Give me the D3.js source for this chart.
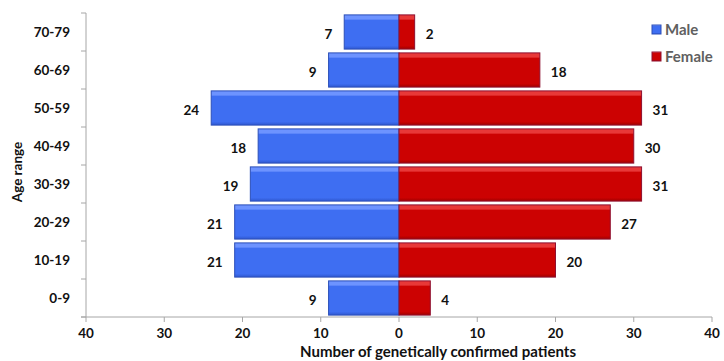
<!DOCTYPE html>
<html>
<head>
<meta charset="utf-8">
<script src="https://cdn.jsdelivr.net/npm/d3@7/dist/d3.min.js"></script>
<style>
  html, body { margin: 0; padding: 0; background: #fff; }
  svg { display: block; font-family: Lato, "Open Sans", sans-serif; font-weight: 700; }
</style>
</head>
<body>
<svg id="chart" width="724" height="361"></svg>
<script>
// Age groups, top to bottom
const ageGroups = ["70-79", "60-69", "50-59", "40-49", "30-39", "20-29", "10-19", "0-9"];
const maleCounts = [7, 9, 24, 18, 19, 21, 21, 9];
const femaleCounts = [2, 18, 31, 30, 31, 27, 20, 4];
const xTicks = [-40, -30, -20, -10, 0, 10, 20, 30, 40];
const seriesNames = ["Male", "Female"];

const svg = d3.select("#chart");
const margin = { left: 86, right: 12, top: 13, bottom: 44 };
const W = 724, H = 361;

const x = d3.scaleLinear().domain([-40, 40]).range([margin.left, W - margin.right]);
const y = d3.scaleBand().domain(ageGroups).range([margin.top, H - margin.bottom]).paddingInner(0.1).paddingOuter(0.05);
const yOuter = d3.scaleBand().domain(ageGroups).range([margin.top, H - margin.bottom]);

// Gradients for the bevelled bar look
const defs = svg.append("defs");
function barGradient(id, top, mid, bottom) {
  const g = defs.append("linearGradient").attr("id", id).attr("x1", 0).attr("y1", 0).attr("x2", 0).attr("y2", 1);
  g.append("stop").attr("offset", "0%").attr("stop-color", top);
  g.append("stop").attr("offset", "12%").attr("stop-color", top);
  g.append("stop").attr("offset", "16%").attr("stop-color", mid);
  g.append("stop").attr("offset", "90%").attr("stop-color", mid);
  g.append("stop").attr("offset", "100%").attr("stop-color", bottom);
}
barGradient("gMale", "#6d93ff", "#3e6ef2", "#2f58cf");
barGradient("gFemale", "#e83838", "#cc0202", "#a00000");

const colors = { Male: { fill: "url(#gMale)", stroke: "#2c4fb8" },
                 Female: { fill: "url(#gFemale)", stroke: "#8e1030" } };

// Axes
const axisColor = "#a6a6a6";
const x0 = x(-40), x1 = x(40), yTop = margin.top, yBot = H - margin.bottom;
svg.append("line").attr("x1", x0).attr("x2", x0).attr("y1", yTop).attr("y2", yBot).attr("stroke", axisColor);
svg.append("line").attr("x1", x0 - 5).attr("x2", x1).attr("y1", yBot).attr("y2", yBot).attr("stroke", axisColor);

// y tick marks at band boundaries
const bounds = ageGroups.map(d => yOuter(d)).concat([yBot]);
svg.selectAll(".ytick").data(bounds).join("line")
  .attr("x1", x0 - 5).attr("x2", x0).attr("y1", d => d).attr("y2", d => d).attr("stroke", axisColor);

// x tick marks
svg.selectAll(".xtick").data(xTicks).join("line")
  .attr("x1", d => x(d)).attr("x2", d => x(d)).attr("y1", yBot).attr("y2", yBot + 5).attr("stroke", axisColor);

// x tick labels (absolute values)
svg.selectAll(".xlabel").data(xTicks).join("text")
  .attr("x", d => x(d)).attr("y", yBot + 21)
  .attr("text-anchor", "middle").attr("font-size", 13.5).attr("fill", "#111")
  .text(d => Math.abs(d));

// y tick labels
svg.selectAll(".ylabel").data(ageGroups).join("text")
  .attr("x", 70).attr("y", d => yOuter(d) + yOuter.bandwidth() / 2 + 5)
  .attr("text-anchor", "end").attr("font-size", 13.5).attr("fill", "#111")
  .text(d => d);

// Axis titles
svg.append("text").attr("x", 438).attr("y", 357).attr("text-anchor", "middle")
  .attr("font-size", 15).attr("fill", "#111").text("Number of genetically confirmed patients");
svg.append("text").attr("transform", "translate(22,172) rotate(-90)")
  .attr("text-anchor", "middle").attr("font-size", 13.5).attr("fill", "#111").text("Age range");

// Bars
const rows = ageGroups.map((g, i) => ({ g, m: maleCounts[i], f: femaleCounts[i] }));

svg.selectAll(".male").data(rows).join("rect")
  .attr("x", d => x(-d.m)).attr("width", d => x(0) - x(-d.m))
  .attr("y", d => y(d.g)).attr("height", y.bandwidth())
  .attr("fill", colors.Male.fill).attr("stroke", colors.Male.stroke).attr("stroke-width", 1);

svg.selectAll(".female").data(rows).join("rect")
  .attr("x", x(0)).attr("width", d => x(d.f) - x(0))
  .attr("y", d => y(d.g)).attr("height", y.bandwidth())
  .attr("fill", colors.Female.fill).attr("stroke", colors.Female.stroke).attr("stroke-width", 1);

// Value labels
svg.selectAll(".mlabel").data(rows).join("text")
  .attr("x", d => x(-d.m) - 12).attr("y", d => y(d.g) + y.bandwidth() / 2 + 7)
  .attr("text-anchor", "end").attr("font-size", 13.5).attr("fill", "#111")
  .text(d => d.m);

svg.selectAll(".flabel").data(rows).join("text")
  .attr("x", d => x(d.f) + 11).attr("y", d => y(d.g) + y.bandwidth() / 2 + 7)
  .attr("text-anchor", "start").attr("font-size", 13.5).attr("fill", "#111")
  .text(d => d.f);

// Legend
const legend = svg.append("g").attr("transform", "translate(652,25)");
seriesNames.forEach((name, i) => {
  const g = legend.append("g").attr("transform", `translate(0,${i * 27})`);
  g.append("rect").attr("width", 9).attr("height", 9)
    .attr("fill", colors[name].fill).attr("stroke", colors[name].stroke);
  g.append("text").attr("x", 13).attr("y", 10).attr("font-size", 15).attr("fill", "#606060").text(name);
});
</script>
</body>
</html>
